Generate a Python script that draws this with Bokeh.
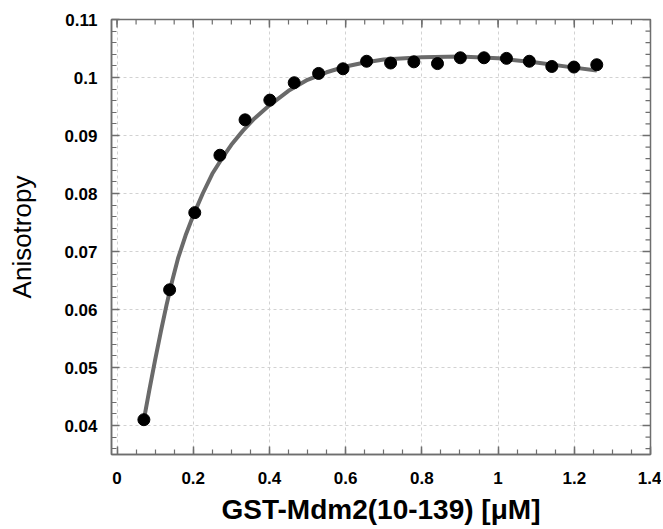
from bokeh.plotting import figure
from bokeh.models import FixedTicker, Range1d
from bokeh.embed import file_html
from bokeh.resources import INLINE
import numpy as np

# ---- data ----
conc = [0.0705, 0.138, 0.204, 0.270, 0.336, 0.401, 0.465, 0.529, 0.593, 0.655,
        0.718, 0.779, 0.841, 0.901, 0.963, 1.022, 1.082, 1.141, 1.199, 1.259]
anis = [0.0410, 0.0634, 0.0767, 0.0866, 0.0927, 0.0961, 0.0991, 0.1007, 0.1015, 0.1028,
        0.1025, 0.1027, 0.1024, 0.1034, 0.1034, 0.1033, 0.1028, 0.1019, 0.1018, 0.1022]

fit_x = [0.0705, 0.085, 0.100, 0.115, 0.130, 0.145, 0.160, 0.180, 0.200, 0.225,
         0.250, 0.275, 0.300, 0.330, 0.360, 0.400, 0.450, 0.500, 0.550, 0.600,
         0.650, 0.700, 0.800, 0.900, 1.000, 1.100, 1.200, 1.259]
fit_y = [0.0410, 0.0462, 0.0513, 0.0562, 0.0608, 0.0650, 0.0688, 0.0728, 0.0762, 0.0800,
         0.0834, 0.0860, 0.0884, 0.0908, 0.0929, 0.0952, 0.0977, 0.0996, 0.1009, 0.1019,
         0.1026, 0.1031, 0.1035, 0.1036, 0.1033, 0.1026, 0.1017, 0.1012]

x_ticks = [0, 0.2, 0.4, 0.6, 0.8, 1.0, 1.2, 1.4]
x_tick_labels = ["0", "0.2", "0.4", "0.6", "0.8", "1", "1.2", "1.4"]
y_ticks = [0.04, 0.05, 0.06, 0.07, 0.08, 0.09, 0.10, 0.11]
y_tick_labels = ["0.04", "0.05", "0.06", "0.07", "0.08", "0.09", "0.1", "0.11"]

x_title = "GST-Mdm2(10-139) [\u03bcM]"
y_title = "Anisotropy"

X0, X1 = -0.0145, 1.4
Y0, Y1 = 0.035, 0.11

FONT = "Liberation Sans"
FRAME = "#6e6e6e"

p = figure(width=661, height=527, output_backend="svg", toolbar_location=None,
           x_range=Range1d(X0, X1), y_range=Range1d(Y0, Y1),
           min_border_left=111, min_border_right=11, min_border_top=19, min_border_bottom=73)
p.outline_line_color = FRAME
p.outline_line_width = 1.5

x_minor = [round(v, 3) for v in np.arange(0.0, 1.4001, 0.05)]
y_minor = [round(v, 4) for v in np.arange(0.036, 0.1101, 0.002)]
xt = FixedTicker(ticks=x_ticks, minor_ticks=x_minor)
yt = FixedTicker(ticks=y_ticks, minor_ticks=y_minor)

def style_axis(ax, ticker, labels, ticks):
    ax.ticker = ticker
    ax.axis_line_color = FRAME
    ax.axis_line_width = 1.5
    ax.major_tick_line_color = FRAME
    ax.minor_tick_line_color = FRAME
    ax.major_tick_line_width = 1.5
    ax.minor_tick_line_width = 1.2
    ax.major_tick_in = 8
    ax.major_tick_out = 0
    ax.minor_tick_in = 5
    ax.minor_tick_out = 0
    ax.major_label_overrides = {t: l for t, l in zip(ticks, labels)}
    ax.major_label_text_font = FONT
    ax.major_label_text_font_style = "bold"
    ax.major_label_text_font_size = "17px"
    ax.major_label_text_color = "black"

xa = p.xaxis[0]
style_axis(xa, xt, x_tick_labels, x_ticks)
xa.major_label_standoff = 17
xa.axis_label = x_title
xa.axis_label_text_font = FONT
xa.axis_label_text_font_style = "bold"
xa.axis_label_text_font_size = "28px"
xa.axis_label_text_color = "black"
xa.axis_label_standoff = 7

ya = p.yaxis[0]
style_axis(ya, yt, y_tick_labels, y_ticks)
ya.major_label_standoff = 14
ya.axis_label = y_title
ya.axis_label_text_font = FONT
ya.axis_label_text_font_style = "normal"
ya.axis_label_text_font_size = "26px"
ya.axis_label_text_color = "black"
ya.axis_label_standoff = 24

p.xgrid.ticker = FixedTicker(ticks=x_ticks)
p.ygrid.ticker = FixedTicker(ticks=y_ticks)
for g in (p.xgrid, p.ygrid):
    g.grid_line_color = "#d2d2d2"
    g.grid_line_dash = "3 3"
    g.grid_line_width = 1

# mirrored inward ticks on the top and right frame edges (clipped to frame)
p.scatter(x_ticks, [Y1] * len(x_ticks), marker="dash", angle=np.pi / 2, size=16,
          line_color=FRAME, line_width=1.5)
p.scatter(x_minor, [Y1] * len(x_minor), marker="dash", angle=np.pi / 2, size=10,
          line_color=FRAME, line_width=1.2)
p.scatter([X1] * len(y_ticks), y_ticks, marker="dash", size=16,
          line_color=FRAME, line_width=1.5)
p.scatter([X1] * len(y_minor), y_minor, marker="dash", size=10,
          line_color=FRAME, line_width=1.2)

p.line(fit_x, fit_y, line_color="#6a6a6a", line_width=4)
p.scatter(conc, anis, size=12, marker="circle", fill_color="black", line_color="black")

open("out.html", "w").write(file_html(p, INLINE))
